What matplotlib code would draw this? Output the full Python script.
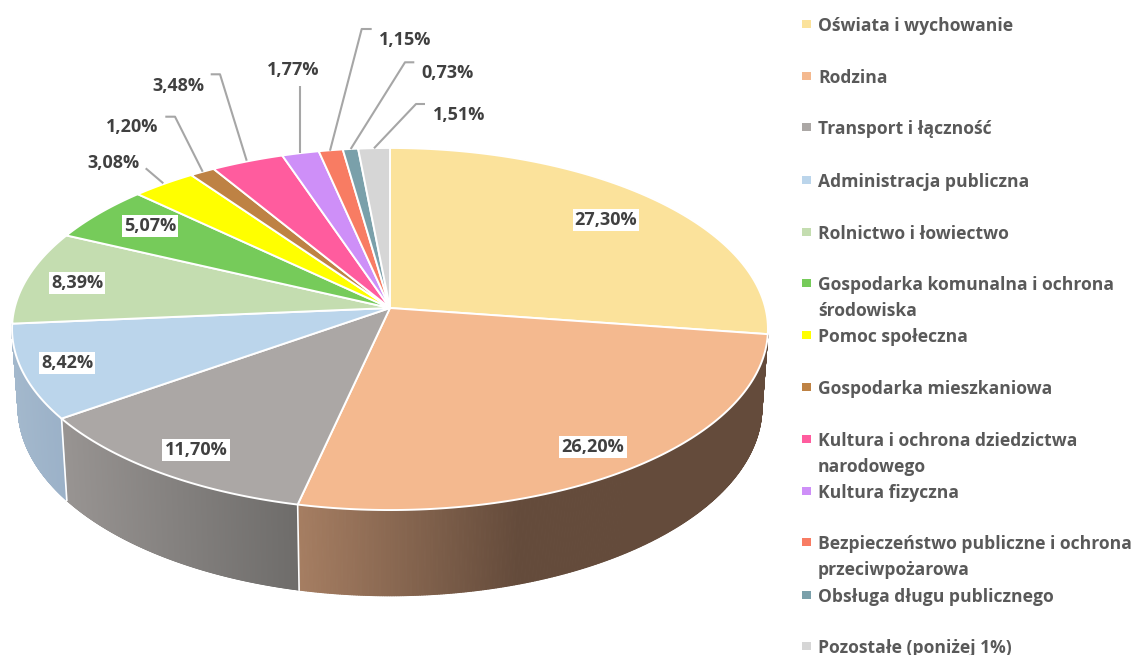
# -*- coding: utf-8 -*-
import numpy as np
import matplotlib
matplotlib.use("Agg")
import matplotlib.pyplot as plt
from matplotlib.collections import PolyCollection

plt.rcParams['font.family'] = ['Open Sans', 'DejaVu Sans']

# %% Data
categories = ["Oświata i wychowanie", "Rodzina", "Transport i łączność",
              "Administracja publiczna", "Rolnictwo i łowiectwo",
              "Gospodarka komunalna i ochrona\nśrodowiska", "Pomoc społeczna",
              "Gospodarka mieszkaniowa",
              "Kultura i ochrona dziedzictwa\nnarodowego", "Kultura fizyczna",
              "Bezpieczeństwo publiczne i ochrona\nprzeciwpożarowa",
              "Obsługa długu publicznego", "Pozostałe (poniżej 1%)"]
values = [27.30, 26.20, 11.70, 8.42, 8.39, 5.07, 3.08, 1.20, 3.48, 1.77, 1.15, 0.73, 1.51]
labels = ["27,30%", "26,20%", "11,70%", "8,42%", "8,39%", "5,07%", "3,08%",
          "1,20%", "3,48%", "1,77%", "1,15%", "0,73%", "1,51%"]
colors = ["#FBE29B", "#F4B98F", "#ABA7A5", "#BBD5EB", "#C4DDB0", "#76CB5A", "#FFFF00",
          "#BE8244", "#FF5C9E", "#CE8FF8", "#F87C63", "#7AA0AA", "#D6D6D6"]

# %% Layout (pixels)
label_xy = [(606, 220), (593, 447), (196, 450), (67, 363), (77, 283), (150, 226),
            (113, 163), (132, 127), (178, 86), (293, 70), (405, 40), (447, 73), (459, 115)]
boxed = [True]*6 + [False]*7
leaders = [[(163.3, 183.3), (145.7, 168.3)],
           [(202.7, 171.7), (175, 116.7), (165.3, 116.7)],
           [(246.7, 160.7), (220, 74.3), (210.7, 74.3)],
           [(300, 152.7), (300, 86)],
           [(330, 150.7), (361.7, 29), (371.7, 29)],
           [(350.7, 149), (405, 62.3), (414.3, 62.3)],
           [(374, 148.3), (416, 104), (425, 104)]]
legend_y = [24, 76, 127, 180, 232, 283, 335, 387, 439, 491, 542, 595, 646]

# perspective of the pie disc
cx, cy = 390, 308
a, b, k = 375.4, 178.6, 0.116
wall_sx, wall_sy, wall_y = 0.984, 1.043, 385

# wall shading: left colour, right colour, share of the width where it reaches the right colour
walls = {1: ("#A67E62", "#644B3B", 0.47),
         2: ("#989492", "#6E6C6A", 1.0),
         3: ("#A3B8CC", "#9BB1C8", 1.0)}


def rim(theta):
    u, v = np.sin(theta), -np.cos(theta)
    w = 1 - k*v
    return a*u/w, b*v/w


def rim_top(theta):
    dx, dy = rim(theta)
    return cx + dx, cy + dy


def rim_bottom(theta):
    dx, dy = rim(theta)
    return cx + wall_sx*dx, wall_y + wall_sy*dy


# %% Plot
fig = plt.figure(figsize=(11.34, 6.55), dpi=100)
ax = fig.add_axes([0, 0, 1, 1])
ax.set_xlim(0, 1134)
ax.set_ylim(655, 0)
ax.axis('off')

edges = np.concatenate([[0], np.cumsum(values)])/sum(values)*2*np.pi

# side walls
for i, (c0, c1, stop) in walls.items():
    th = np.linspace(edges[i], edges[i+1], 400)
    x0, y0 = rim_top(th)
    x1, y1 = rim_bottom(th)
    quads = [[(x0[j], y0[j]), (x0[j+1], y0[j+1]), (x1[j+1], y1[j+1]), (x1[j], y1[j])]
             for j in range(len(th)-1)]
    t = (x0[:-1] - x0.min())/(x0.max() - x0.min())
    t = np.clip(t/stop, 0, 1)
    rgb0, rgb1 = np.array(matplotlib.colors.to_rgb(c0)), np.array(matplotlib.colors.to_rgb(c1))
    cols = [rgb0 + (rgb1 - rgb0)*s for s in t]
    ax.add_collection(PolyCollection(quads, facecolors=cols, edgecolors=cols, linewidths=0.8, zorder=1))

# white seams between the walls
for i in (2, 3):
    x0, y0 = rim_top(edges[i])
    x1, y1 = rim_bottom(edges[i])
    ax.plot([x0, x1], [y0, y1], color='white', lw=1.2, zorder=2)

# top of the disc
for i, col in enumerate(colors):
    th = np.linspace(edges[i], edges[i+1], 120)
    x, y = rim_top(th)
    ax.fill(np.r_[cx, x], np.r_[cy, y], facecolor=col, edgecolor='white', lw=1.4,
            joinstyle='round', zorder=3)

# leader lines
for pts in leaders:
    ax.plot(*zip(*pts), color='#A6A6A6', lw=1.5, zorder=4, solid_capstyle='butt')

# value labels
for txt, (x, y), box in zip(labels, label_xy, boxed):
    bbox = dict(facecolor='white', edgecolor='none', pad=1.5) if box else None
    ax.text(x, y, txt, ha='center', va='center', fontsize=13, fontweight='bold',
            color='#404040', bbox=bbox, zorder=5)

# legend
ax.scatter([806.5]*len(categories), legend_y, marker='s', s=36, c=colors, linewidths=0, zorder=5)
for name, y in zip(categories, legend_y):
    ax.text(818, y - 7, name, ha='left', va='top', fontsize=12.6, fontweight='bold',
            color='#595959', linespacing=1.54, zorder=5)

fig.savefig("out.png", dpi=100)
